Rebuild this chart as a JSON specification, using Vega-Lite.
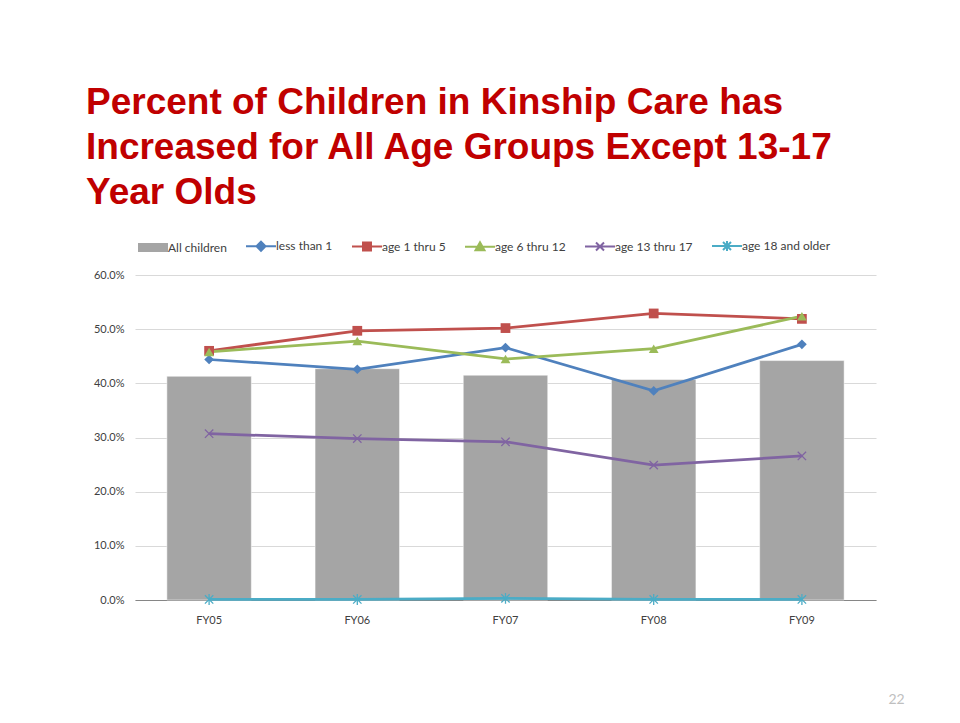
{
  "$schema": "https://vega.github.io/schema/vega-lite/v6.json",
  "autosize": "none",
  "width": 741,
  "height": 325,
  "padding": {"left": 135, "top": 275, "right": 84, "bottom": 123},
  "background": "white",
  "title": {
    "text": ["Percent of Children in Kinship Care has", "Increased for All Age Groups Except 13-17", "Year Olds"],
    "anchor": "start",
    "frame": "group",
    "dx": -49,
    "font": "Liberation Sans",
    "fontSize": 37,
    "fontWeight": "bold",
    "color": "#C00000",
    "lineHeight": 45,
    "offset": 28
  },
  "data": {
    "values": [
      {"year": "FY05", "series": "All children", "value": 0.413},
      {"year": "FY06", "series": "All children", "value": 0.427},
      {"year": "FY07", "series": "All children", "value": 0.415},
      {"year": "FY08", "series": "All children", "value": 0.407},
      {"year": "FY09", "series": "All children", "value": 0.442},
      {"year": "FY05", "series": "less than 1", "value": 0.444},
      {"year": "FY06", "series": "less than 1", "value": 0.426},
      {"year": "FY07", "series": "less than 1", "value": 0.466},
      {"year": "FY08", "series": "less than 1", "value": 0.386},
      {"year": "FY09", "series": "less than 1", "value": 0.472},
      {"year": "FY05", "series": "age 1 thru 5", "value": 0.460},
      {"year": "FY06", "series": "age 1 thru 5", "value": 0.497},
      {"year": "FY07", "series": "age 1 thru 5", "value": 0.502},
      {"year": "FY08", "series": "age 1 thru 5", "value": 0.529},
      {"year": "FY09", "series": "age 1 thru 5", "value": 0.519},
      {"year": "FY05", "series": "age 6 thru 12", "value": 0.458},
      {"year": "FY06", "series": "age 6 thru 12", "value": 0.478},
      {"year": "FY07", "series": "age 6 thru 12", "value": 0.445},
      {"year": "FY08", "series": "age 6 thru 12", "value": 0.464},
      {"year": "FY09", "series": "age 6 thru 12", "value": 0.524},
      {"year": "FY05", "series": "age 13 thru 17", "value": 0.307},
      {"year": "FY06", "series": "age 13 thru 17", "value": 0.298},
      {"year": "FY07", "series": "age 13 thru 17", "value": 0.292},
      {"year": "FY08", "series": "age 13 thru 17", "value": 0.249},
      {"year": "FY09", "series": "age 13 thru 17", "value": 0.266},
      {"year": "FY05", "series": "age 18 and older", "value": 0.001},
      {"year": "FY06", "series": "age 18 and older", "value": 0.001},
      {"year": "FY07", "series": "age 18 and older", "value": 0.003},
      {"year": "FY08", "series": "age 18 and older", "value": 0.001},
      {"year": "FY09", "series": "age 18 and older", "value": 0.001}
    ]
  },
  "encoding": {
    "x": {
      "field": "year",
      "type": "nominal",
      "scale": {"paddingInner": 0.43, "paddingOuter": 0.215},
      "axis": {
        "labelAngle": 0,
        "ticks": false,
        "domainColor": "#868686",
        "domainWidth": 1,
        "labelFont": "Lato",
        "labelFontSize": 11,
        "labelColor": "#404040",
        "labelPadding": 14,
        "title": "22",
        "titleX": 761,
        "titleY": 92,
        "titleFont": "Lato",
        "titleFontSize": 14,
        "titleFontWeight": "normal",
        "titleColor": "#BFBFBF",
        "titleAnchor": null
      }
    },
    "y": {
      "field": "value",
      "type": "quantitative",
      "scale": {"domain": [0, 0.6]},
      "axis": {
        "values": [0, 0.1, 0.2, 0.3, 0.4, 0.5, 0.6],
        "format": ".1%",
        "domain": false,
        "ticks": false,
        "gridColor": "#D9D9D9",
        "gridWidth": 1,
        "labelFont": "Lato",
        "labelFontSize": 11,
        "labelColor": "#404040",
        "labelPadding": 11,
        "title": null
      }
    },
    "color": {
      "field": "series",
      "type": "nominal",
      "scale": {
        "domain": ["All children", "less than 1", "age 1 thru 5", "age 6 thru 12", "age 13 thru 17", "age 18 and older"],
        "range": ["#A5A5A5", "#4F81BD", "#C0504D", "#9BBB59", "#8064A2", "#4BACC6"]
      },
      "legend": {
        "orient": "none",
        "legendX": 12,
        "legendY": -35,
        "direction": "horizontal",
        "title": null,
        "symbolSize": 100,
        "symbolStrokeWidth": 2,
        "labelFont": "Lato",
        "labelFontSize": 12,
        "labelColor": "#404040",
        "labelOffset": 9,
        "columnPadding": 15,
        "encode": {
          "symbols": {
            "update": {
              "shape": {"signal": "datum.value == 'All children' ? 'M-3,-0.9L3,-0.9L3,0.9L-3,0.9Z' : datum.value == 'less than 1' ? 'M-3,0L3,0M0,-0.9L0.9,0L0,0.9L-0.9,0Z' : datum.value == 'age 1 thru 5' ? 'M-3,0L3,0M-0.8,-0.8L0.8,-0.8L0.8,0.8L-0.8,0.8Z' : datum.value == 'age 6 thru 12' ? 'M-3,0L3,0M-0.9,0.7L0.9,0.7L0,-0.9Z' : datum.value == 'age 13 thru 17' ? 'M-3,0L3,0M-0.8,-0.8L0.8,0.8M-0.8,0.8L0.8,-0.8' : 'M-3,0L3,0M-0.8,-0.8L0.8,0.8M-0.8,0.8L0.8,-0.8M0,-1L0,1'"},
              "fill": {"signal": "datum.value == 'age 13 thru 17' || datum.value == 'age 18 and older' ? 'transparent' : scale('color', datum.value)"},
              "stroke": {"signal": "scale('color', datum.value)"},
              "strokeWidth": {"signal": "datum.value == 'All children' ? 0 : 2"},
              "opacity": {"value": 1}
            }
          }
        }
      }
    }
  },
  "layer": [
    {
      "transform": [{"filter": "datum.series == 'All children'"}],
      "mark": {"type": "bar", "stroke": "white", "strokeWidth": 0.5}
    },
    {
      "transform": [{"filter": "datum.series != 'All children'"}],
      "mark": {"type": "line", "strokeWidth": 2.75}
    },
    {
      "transform": [{"filter": "datum.series == 'less than 1' || datum.series == 'age 1 thru 5' || datum.series == 'age 6 thru 12'"}],
      "mark": {"type": "point", "filled": true, "size": 95, "opacity": 1},
      "encoding": {
        "shape": {
          "field": "series",
          "type": "nominal",
          "scale": {
            "domain": ["less than 1", "age 1 thru 5", "age 6 thru 12", "age 13 thru 17", "age 18 and older"],
            "range": ["diamond", "square", "triangle-up", "M-1,-1L1,1M-1,1L1,-1", "M-1,-1L1,1M-1,1L1,-1M0,-1.3L0,1.3"]
          },
          "legend": null
        }
      }
    },
    {
      "transform": [{"filter": "datum.series == 'age 13 thru 17' || datum.series == 'age 18 and older'"}],
      "mark": {"type": "point", "filled": false, "size": 70, "strokeWidth": 1.3, "opacity": 1},
      "encoding": {
        "shape": {
          "field": "series",
          "type": "nominal",
          "legend": null
        }
      }
    }
  ],
  "config": {
    "view": {"stroke": null}
  }
}
